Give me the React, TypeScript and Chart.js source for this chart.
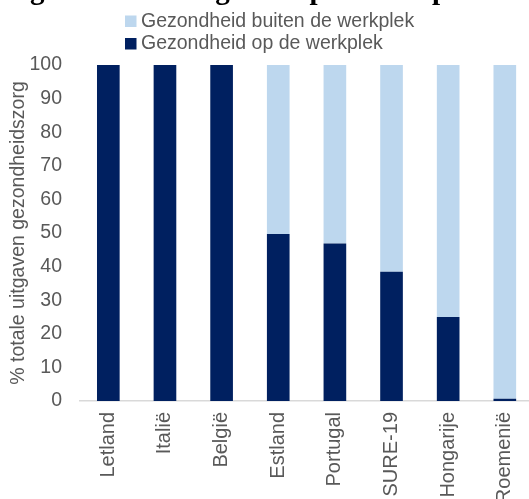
import React, { useEffect, useRef } from "react";
import { Chart, registerables } from "chart.js";

Chart.register(...registerables);

const categories = ["Letland", "Italië", "België", "Estland", "Portugal", "SURE-19", "Hongarije", "Roemenië"];
const opDeWerkplek = [100, 100, 100, 49.7, 46.9, 38.5, 25.0, 0.7];
const buitenDeWerkplek = [0, 0, 0, 50.3, 53.1, 61.5, 75.0, 99.3];
const seriesNames = ["Gezondheid op de werkplek", "Gezondheid buiten de werkplek"];
const titleText = "gezondheidsuitgaven op de werkplek";
const yAxisTitle = "% totale uitgaven gezondheidszorg";

const FONT = "'Liberation Sans', Arial, sans-serif";
const GRAY = "#595959";

const overlayPlugin = {
  id: "overlay",
  afterDraw(chart: any) {
    const ctx = chart.ctx;
    ctx.save();
    // clipped title (mostly above the canvas)
    ctx.font = "bold 29px 'Liberation Serif', 'Times New Roman', serif";
    ctx.fillStyle = "#000000";
    ctx.textAlign = "left";
    ctx.textBaseline = "alphabetic";
    ctx.fillText(titleText, 30, -1);
    // legend, reversed order, stacked vertically
    const ds = chart.data.datasets.slice().reverse();
    ctx.font = `19.5px ${FONT}`;
    ctx.textBaseline = "middle";
    ds.forEach((d: any, i: number) => {
      const cy = 21 + i * 22.5;
      ctx.fillStyle = d.backgroundColor;
      ctx.fillRect(125, cy - 5.5, 11.5, 11.5);
      ctx.fillStyle = GRAY;
      ctx.fillText(d.label, 141, cy + 0.5);
    });
    ctx.restore();
  },
};

export default function App() {
  const ref = useRef<HTMLCanvasElement | null>(null);
  useEffect(() => {
    if (!ref.current) return;
    const chart = new Chart(ref.current, {
      type: "bar",
      data: {
        labels: categories,
        datasets: [
          { label: seriesNames[0], data: opDeWerkplek, backgroundColor: "#002060", borderWidth: 0 },
          { label: seriesNames[1], data: buitenDeWerkplek, backgroundColor: "#BDD7EE", borderWidth: 0 },
        ],
      },
      options: {
        responsive: false,
        animation: false,
        devicePixelRatio: 1,
        layout: { padding: { top: 65, right: 3, left: 0, bottom: 0 } },
        datasets: { bar: { barPercentage: 0.4, categoryPercentage: 1 } },
        plugins: { legend: { display: false }, tooltip: { enabled: false }, title: { display: false } },
        scales: {
          x: {
            stacked: true,
            grid: { display: false, drawTicks: false },
            border: { display: true, color: "#D9D9D9", width: 1.5 },
            ticks: {
              color: GRAY,
              font: { family: FONT, size: 20 },
              minRotation: 90,
              maxRotation: 90,
              autoSkip: false,
              padding: 11,
            },
            afterFit: (s: any) => { s.height = 98; },
          },
          y: {
            stacked: true,
            min: 0,
            max: 100,
            grid: { display: false, drawTicks: false },
            border: { display: false },
            ticks: { stepSize: 10, color: GRAY, font: { family: FONT, size: 19.5 }, padding: 18 },
            title: {
              display: true,
              text: yAxisTitle,
              color: GRAY,
              font: { family: FONT, size: 19.5 },
              padding: { top: 7, bottom: 0 },
            },
            afterFit: (s: any) => { s.width = 80; },
          },
        },
      },
      plugins: [overlayPlugin],
    });
    return () => chart.destroy();
  }, []);
  return (
    <div style={{ position: "fixed", left: 0, top: 0, width: 529, height: 499, overflow: "hidden", background: "#fff" }}>
      <canvas ref={ref} width={540} height={499} style={{ display: "block" }} />
    </div>
  );
}
